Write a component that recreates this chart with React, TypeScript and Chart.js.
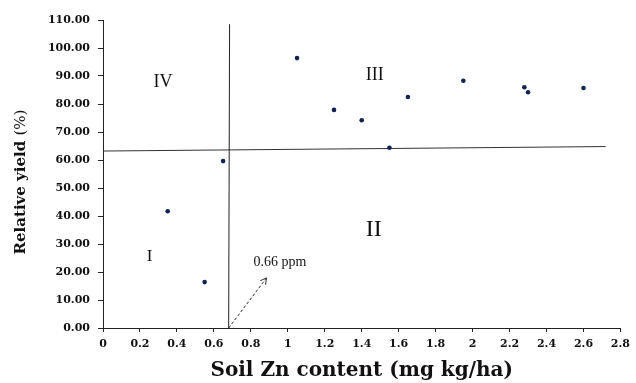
import React, { useEffect, useRef } from "react";
import { Chart, registerables } from "chart.js";

Chart.register(...registerables);

const zinc = [0.35, 0.55, 0.65, 1.05, 1.25, 1.4, 1.55, 1.65, 1.95, 2.28, 2.3, 2.6];
const yieldPct = [41.7, 16.4, 59.6, 96.4, 77.9, 74.2, 64.4, 82.5, 88.3, 86.0, 84.2, 85.7];

const vLineX = [0.68, 0.685];
const vLineY = [0, 108.5];
const hLineX = [0, 2.72];
const hLineY = [63.2, 64.8];
const arrowX = [0.68, 0.885];
const arrowY = [0, 17.9];

const quadLabels = ["IV", "III", "II", "I"];
const quadX = [0.325, 1.47, 1.465, 0.252];
const quadY = [87.8, 90.4, 35.1, 25.6];
const quadSize = [18, 18, 24, 17];

const noteText = "0.66 ppm";
const noteX = 0.958;
const noteY = 23.5;

const yTitleBold = "Relative yield ";
const yTitleRegular = "(%)";

const toPts = (xs: number[], ys: number[]) => xs.map((x, i) => ({ x, y: ys[i] }));

const overlay = {
  id: "overlay",
  afterDatasetsDraw(chart: any) {
    const { ctx, scales } = chart;
    const xs = scales.x;
    const ys = scales.y;
    ctx.save();
    const x0 = xs.getPixelForValue(arrowX[0]);
    const y0 = ys.getPixelForValue(arrowY[0]);
    const x1 = xs.getPixelForValue(arrowX[1]);
    const y1 = ys.getPixelForValue(arrowY[1]);
    const ang = Math.atan2(y1 - y0, x1 - x0);
    const L = 7;
    ctx.strokeStyle = "#333";
    ctx.lineWidth = 1;
    ctx.setLineDash([]);
    ctx.beginPath();
    ctx.moveTo(x1 - L * Math.cos(ang - 0.5), y1 - L * Math.sin(ang - 0.5));
    ctx.lineTo(x1, y1);
    ctx.lineTo(x1 - L * Math.cos(ang + 0.5), y1 - L * Math.sin(ang + 0.5));
    ctx.stroke();
    ctx.fillStyle = "#111";
    ctx.textAlign = "center";
    ctx.textBaseline = "middle";
    quadLabels.forEach((t, i) => {
      ctx.font = `${quadSize[i]}px "Liberation Serif", serif`;
      ctx.fillText(t, xs.getPixelForValue(quadX[i]), ys.getPixelForValue(quadY[i]));
    });
    ctx.font = `14px "Liberation Serif", serif`;
    ctx.fillText(noteText, xs.getPixelForValue(noteX), ys.getPixelForValue(noteY));

    // y-axis title: bold part + regular part, rotated
    const boldFont = `bold 15px "DejaVu Serif", serif`;
    const regFont = `15px "DejaVu Serif", serif`;
    ctx.font = boldFont;
    const wb = ctx.measureText(yTitleBold).width;
    ctx.font = regFont;
    const wr = ctx.measureText(yTitleRegular).width;
    const total = wb + wr;
    ctx.translate(21, 182);
    ctx.rotate(-Math.PI / 2);
    ctx.textAlign = "left";
    ctx.font = boldFont;
    ctx.fillText(yTitleBold, -total / 2, 0);
    ctx.font = regFont;
    ctx.fillText(yTitleRegular, -total / 2 + wb, 0);
    ctx.restore();
  },
};

export default function App() {
  const ref = useRef<HTMLCanvasElement | null>(null);
  useEffect(() => {
    if (!ref.current) return;
    const tickFont = { family: '"DejaVu Serif", serif', weight: "bold" as const, size: 11 };
    const chart = new Chart(ref.current, {
      type: "scatter",
      data: {
        datasets: [
          {
            data: toPts(zinc, yieldPct),
            backgroundColor: "#0f2250",
            borderColor: "#0f2250",
            pointRadius: 2.3,
            pointBorderWidth: 0,
          },
          {
            data: toPts(vLineX, vLineY),
            showLine: true,
            pointRadius: 0,
            borderColor: "#222",
            borderWidth: 1,
          },
          {
            data: toPts(hLineX, hLineY),
            showLine: true,
            pointRadius: 0,
            borderColor: "#333",
            borderWidth: 1,
          },
          {
            data: toPts(arrowX, arrowY),
            showLine: true,
            pointRadius: 0,
            borderColor: "#333",
            borderWidth: 1,
            borderDash: [3, 2],
          },
        ],
      },
      options: {
        animation: false,
        responsive: false,
        devicePixelRatio: 1,
        layout: { padding: { top: 20, right: 11, left: 0, bottom: 0 } },
        plugins: { legend: { display: false }, tooltip: { enabled: false } },
        scales: {
          x: {
            type: "linear",
            min: 0,
            max: 2.8,
            afterFit: (s: any) => {
              s.height = 55;
            },
            ticks: {
              stepSize: 0.2,
              color: "#111",
              font: tickFont,
              padding: 6,
              callback: (v: any) => String(Math.round(Number(v) * 10) / 10),
            },
            grid: { drawOnChartArea: false, tickLength: 4, color: "#222" },
            border: { color: "#222", width: 1 },
            title: {
              display: true,
              text: "Soil Zn content (mg kg/ha)",
              color: "#111",
              font: { family: '"DejaVu Serif", serif', weight: "bold", size: 20 },
              padding: { top: 0, bottom: 0 },
            },
          },
          y: {
            type: "linear",
            min: 0,
            max: 110,
            afterFit: (s: any) => {
              s.width = 103;
            },
            ticks: {
              stepSize: 10,
              color: "#111",
              font: tickFont,
              padding: 8,
              callback: (v: any) => Number(v).toFixed(2),
            },
            grid: { drawOnChartArea: false, tickLength: 5, color: "#222" },
            border: { color: "#222", width: 1 },
            title: { display: false },
          },
        },
      },
      plugins: [overlay],
    });
    return () => chart.destroy();
  }, []);
  return (
    <div style={{ position: "fixed", left: 0, top: 0, width: 636, height: 383, background: "#fff" }}>
      <canvas ref={ref} width={636} height={383} style={{ width: 636, height: 383 }} />
    </div>
  );
}
